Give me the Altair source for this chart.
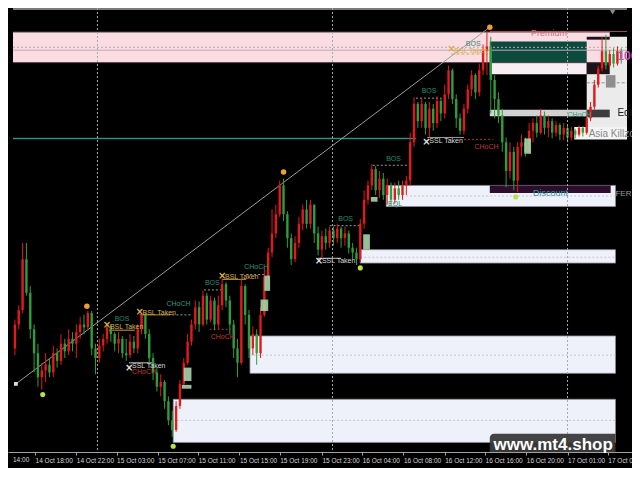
import altair as alt
import pandas as pd

FONT = "Liberation Sans, Arial, sans-serif"
AXIS_FONT = "Liberation Sans, Arial, sans-serif"

# ---------------- price data (M15 bars, price in points) ----------------
first_open = 145
close = [170,185,238,203,165,140,115,122,128,120,
         140,132,150,142,155,150,162,170,167,182,
         145,135,148,155,167,160,150,155,140,138,
         152,145,165,180,160,135,120,105,110,90,
         70,60,85,108,130,152,170,188,170,200,
         175,195,170,190,212,195,170,145,130,210,
         180,145,160,140,180,220,245,265,285,315,
         285,260,238,255,275,290,275,295,265,248,
         262,255,268,260,270,260,265,250,245,238,
         275,300,315,332,310,322,305,315,300,312,
         305,315,320,360,400,382,400,375,395,380,
         403,390,410,435,405,385,372,395,415,430,
         412,435,455,460,425,405,388,360,330,350,
         320,355,360,350,372,380,370,388,375,382,
         370,378,368,375,365,372,368,375,370,385,
         397,420,437,455,440,452,442,455,448]
high = [175,190,255,255,210,170,150,130,140,135,
        148,145,160,155,165,162,170,178,180,184,
        184,150,155,160,170,170,162,162,158,155,
        160,158,170,182,182,165,140,125,118,112,
        95,80,90,112,135,160,175,195,194,205,
        203,200,198,200,218,214,200,175,155,217,
        212,185,168,165,188,230,250,290,295,320,
        322,288,265,262,282,295,300,300,295,272,
        268,270,272,272,275,272,272,268,255,250,
        280,310,320,337,335,330,328,322,318,318,
        320,320,325,370,407,402,406,402,402,400,
        408,405,420,440,437,410,390,400,420,435,
        432,442,462,476,470,430,412,395,365,360,
        355,360,368,365,380,385,388,395,392,388,
        385,382,380,380,378,376,374,378,377,388,
        402,425,440,470,472,456,458,460,458]
low = [138,165,182,200,155,120,105,102,110,115,
       115,125,128,135,138,142,135,155,160,165,
       138,118,130,142,150,152,142,140,135,132,
       135,140,140,160,155,128,112,100,95,82,
       65,53,58,82,105,128,148,165,162,168,
       170,172,164,165,185,188,160,135,115,128,
       170,135,138,128,135,178,215,240,260,282,
       278,250,232,235,250,268,270,270,255,242,
       240,248,250,252,255,250,252,244,238,232,
       235,270,295,310,305,302,300,295,294,296,
       300,300,305,315,355,375,375,368,365,372,
       375,382,385,405,400,375,368,368,390,408,
       405,408,430,430,390,385,380,350,313,322,
       310,308,345,345,348,360,365,368,368,365,
       364,366,362,362,360,362,364,366,366,368,
       382,394,417,434,436,438,438,440,442]

# ---------------- time axis ----------------
tick_bars = [5.25, 16, 26.5, 37.25, 47.75, 58.5, 69, 80, 90.5, 101.25, 112, 122.5, 133.25, 144, 154.5]
tick_labels = ["14 Oct 18:00", "14 Oct 22:00", "15 Oct 03:00", "15 Oct 07:00", "15 Oct 11:00",
               "15 Oct 15:00", "15 Oct 19:00", "15 Oct 23:00", "16 Oct 04:00", "16 Oct 08:00",
               "16 Oct 12:00", "16 Oct 16:00", "16 Oct 20:00", "17 Oct 01:00", "17 Oct 05:00"]
first_tick_bar = -0.5
first_tick_label = "14:00"
separator_bars = [21.5, 82.75, 144]

# ---------------- zones (bar range, price range) ----------------
zone_kind = ["panel", "premium", "ob", "band", "dark", "dark", "midgray", "gray", "darkgray", "asia",
             "demand", "discount", "demand", "demand", "demand"]
zone_x1 = [149, -0.5, 123.75, 123.75, 149, 149, 154, 123.75, 149, 145.75, 96.75, 123.75, 90, 61.25, 41.25]
zone_x2 = [159.5, 155, 149, 149, 155, 155, 156.5, 149, 155, 159.5, 156.5, 155.25, 156.5, 156.5, 156.5]
zone_top = [470, 475, 465, 443, 443, 470, 430, 394, 394, 376, 315, 315, 248, 158, 92]
zone_bottom = [372, 443, 443, 431, 431, 467, 417, 387, 386, 363, 293, 307, 234, 119, 47]

# small imbalance boxes
fvg_x1 = [44, 43.5, 65, 64, 90.75, 92.75, 132.75]
fvg_x2 = [46, 46, 66.5, 66, 92.5, 94.5, 134.5]
fvg_top = [125, 107, 221, 196, 264, 303, 364]
fvg_bottom = [111, 103, 205, 184, 248, 298, 348]

# horizontal level segments
seg_kind = ["border", "premium_edge", "premium_edge", "premium_dot", "premium_mid", "premium_top", "eq",
            "zone_mid", "zone_mid", "zone_mid", "zone_mid",
            "bsl", "bsl", "bsl",
            "swing_dot", "swing_dot", "swing_dot", "swing_dot", "swing_dot", "swing_dot",
            "ssl", "ssl", "ssl", "choch_dn", "choch_dn", "bsl_dash", "panel_dash"]
seg_x1 = [-0.5, -0.5, -0.5, -0.5, -0.5, 123.75, -0.5,
          41.25, 61.25, 90, 96.75,
          24.5, 32.5, 54,
          40, 49.25, 60.25, 82, 93.25, 104.5,
          29.75, 79, 107.5, 50.75, 117, 113.75, 149]
seg_x2 = [159.5, 155, 155, 159.5, 159.5, 159.5, 104.5,
          156.5, 156.5, 156.5, 156.5,
          31.25, 40, 60.25,
          46.25, 54, 65, 90, 103.25, 111.25,
          36.25, 85, 117, 56.25, 124.5, 123.25, 159.5]
seg_p = [499, 475, 443, 459, 456, 475.5, 364,
         70, 138, 240, 304,
         164, 180, 217,
         180, 206, 222, 273, 336, 406,
         130, 239, 365, 165, 363, 452, 422]

# trend line
diag_bar = [0.25, 123.75]
diag_p = [108, 480]

# swing points
dot_kind = ["low", "low", "low", "low", "high", "high", "high"]
dot_bar = [7.25, 41.25, 90, 130.5, 18.75, 70, 123.75]
dot_p = [97, 43, 229, 303, 189, 329, 480]

# liquidity sweep markers
xm_kind = ["bsl", "bsl", "bsl", "bsl", "ssl", "ssl", "ssl"]
xm_bar = [24, 32.5, 54, 113.75, 29.75, 79.25, 107.25]
xm_p = [169, 183, 221, 457, 125, 236, 360]

# structure labels
lab_text = ["BOS", "BSL Taken", "BSL Taken", "CHoCH", "SSL Taken", "CHoCH", "BOS", "BSL Taken", "CHoCH",
            "CHoCH", "BOS", "SSL Taken", "BOS", "EQL", "BOS", "SSL Taken", "CHoCH", "BSL Taken", "BOS", "CHoCH"]
lab_kind = ["bos", "bsl", "bsl", "choch_up", "ssl", "choch_dn", "bos", "bsl", "choch_up",
            "choch_dn", "bos", "ssl", "bos", "bos", "bos", "ssl", "choch_dn", "bsl", "bos", "choch_up"]
lab_bar = [26, 24.75, 33.25, 39.5, 30.5, 30.5, 49.5, 54.75, 59.75,
           51, 84.25, 80, 96.75, 97.25, 106, 108, 119.75, 114.5, 117.5, 144]
lab_p = [176, 167, 182, 191, 127, 120, 213, 220, 230,
         157, 280, 236, 343, 296, 413, 361, 355, 455, 462, 388]

note_text = ["Premium", "Discount", "Asia Killzone", "Equ", "100", "FER"]
note_bar = [134.5, 135, 149.5, 157, 157, 156.5]
note_p = [474, 307, 369, 390, 450, 306]

wm_x1, wm_x2, wm_top, wm_bottom = [123.75], [156.5], [56], [37]
wm_text = ["www.mt4.shop"]
wm_bar = [140.25]
wm_p = [39]

# ---------------- frames ----------------
opens = [first_open] + close[:-1]
candles = pd.DataFrame({"bar": list(range(len(close))), "open": opens, "close": close,
                        "high": high, "low": low})
candles["dir"] = ["up" if c >= o else "down" for o, c in zip(opens, close)]

zones = pd.DataFrame({"kind": zone_kind, "x1": zone_x1, "x2": zone_x2, "top": zone_top, "bottom": zone_bottom})
fvg = pd.DataFrame({"x1": fvg_x1, "x2": fvg_x2, "top": fvg_top, "bottom": fvg_bottom})
segs = pd.DataFrame({"kind": seg_kind, "x1": seg_x1, "x2": seg_x2, "p": seg_p})
diag = pd.DataFrame({"bar": diag_bar, "p": diag_p})
dots = pd.DataFrame({"kind": dot_kind, "bar": dot_bar, "p": dot_p})
xms = pd.DataFrame({"kind": xm_kind, "bar": xm_bar, "p": xm_p})
labs = pd.DataFrame({"text": lab_text, "kind": lab_kind, "bar": lab_bar, "p": lab_p})
notes = pd.DataFrame({"text": note_text, "bar": note_bar, "p": note_p})
seps = pd.DataFrame({"bar": separator_bars})
wm_box = pd.DataFrame({"x1": wm_x1, "x2": wm_x2, "top": wm_top, "bottom": wm_bottom})
wm = pd.DataFrame({"text": wm_text, "bar": wm_bar, "p": wm_p})
first_tick = pd.DataFrame({"bar": [first_tick_bar], "text": [first_tick_label]})

W, H = 624, 444
xscale = alt.Scale(domain=[-0.5, 159.5], nice=False, zero=False)
yscale = alt.Scale(domain=[37, 500], nice=False, zero=False)
label_expr = "[" + ",".join("'%s'" % t for t in tick_labels) + "][indexof([" + \
             ",".join(str(v) for v in tick_bars) + "], datum.value)]"
xaxis = alt.Axis(values=tick_bars, labelExpr=label_expr, orient="bottom", title=None, grid=False,
                 domainColor="#a0a0a0", domainWidth=1, tickColor="#a0a0a0", tickSize=3, tickWidth=1,
                 labelColor="#d6d6d6", labelFont=AXIS_FONT, labelFontSize=6.5, labelAlign="left",
                 labelBaseline="top", labelPadding=2, labelOverlap=False, labelBound=False,
                 labelFlush=False)


def X(f):
    return alt.X(f, type="quantitative", scale=xscale, axis=xaxis)


def Y(f):
    return alt.Y(f, type="quantitative", scale=yscale, axis=None)


def rects(df, **mark):
    return alt.Chart(df).mark_rect(**mark).encode(x=X("x1"), x2="x2", y=Y("top"), y2="bottom")


zone_style = {"panel": "#ebebeb", "premium": "#f9dde3", "ob": "#0c4a3d", "band": "#f6eef2",
              "dark": "#1c1219", "midgray": "#8e8e8e", "gray": "#d2d2d2", "darkgray": "#3c3c3c",
              "asia": "#f4f4f4"}
zone_layers = []
for k, col in zone_style.items():
    zone_layers.append(rects(zones[zones.kind == k], color=col))
demand_layer = rects(zones[zones.kind == "demand"], color="#eef0fa", stroke="#8c8c98", strokeWidth=0.8)
discount_layer = rects(zones[zones.kind == "discount"], color="#2c0e2c")

seg_style = {
    "border": ("#7a7a7a", 2, [1, 0]),
    "premium_edge": ("#4a3a40", 1, [1, 0]),
    "premium_dot": ("#c4a4ae", 1, [2, 2]),
    "premium_mid": ("#bcaab8", 1, [1, 0]),
    "premium_top": ("#c05868", 1, [1, 0]),
    "eq": ("#2f8f80", 1.5, [1, 0]),
    "zone_mid": ("#c4c6d4", 1, [2, 2]),
    "bsl": ("#c8a850", 1, [1, 0]),
    "bsl_dash": ("#c8a850", 1, [3, 2]),
    "swing_dot": ("#9a9a9a", 1, [2, 2]),
    "ssl": ("#d0d0d0", 1, [1, 0]),
    "choch_dn": ("#b03838", 1, [2, 2]),
    "panel_dash": ("#909090", 1, [3, 2]),
}
seg_layers = []
for k, (col, w, dash) in seg_style.items():
    seg_layers.append(alt.Chart(segs[segs.kind == k]).mark_rule(color=col, strokeWidth=w, strokeDash=dash)
                      .encode(x=X("x1"), x2="x2", y=Y("p")))

diag_layer = alt.Chart(diag).mark_line(color="#9c9c9c", strokeWidth=1).encode(x=X("bar"), y=Y("p"))

up = candles[candles.dir == "up"]
down = candles[candles.dir == "down"]
candle_layers = []
for df, col in [(up, "#e3191b"), (down, "#2f9e3a")]:
    candle_layers.append(alt.Chart(df).mark_rule(strokeWidth=1, color=col)
                         .encode(x=X("bar"), y=Y("low"), y2="high"))
    candle_layers.append(alt.Chart(df).mark_bar(size=2.4, color=col)
                         .encode(x=X("bar"), y=Y("open"), y2="close"))

fvg_layer = rects(fvg, color="#a9d3a9", opacity=0.9)

dot_layers = [
    alt.Chart(dots[dots.kind == "low"]).mark_circle(size=26, opacity=1, color="#b8e04a").encode(x=X("bar"), y=Y("p")),
    alt.Chart(dots[dots.kind == "high"]).mark_circle(size=30, opacity=1, color="#f0a030").encode(x=X("bar"), y=Y("p")),
    alt.Chart(diag.head(1)).mark_square(size=14, color="#e0e0e0", opacity=1).encode(x=X("bar"), y=Y("p")),
]

xm_layers = []
for k, col in [("bsl", "#d8b048"), ("ssl", "#e6e6e6")]:
    xm_layers.append(alt.Chart(xms[xms.kind == k]).mark_text(
        text="×", fontSize=10, fontWeight="bold", font="DejaVu Sans", color=col).encode(x=X("bar"), y=Y("p")))

lab_style = {"bos": "#2e8a72", "bsl": "#d8b048", "ssl": "#d8d8d8", "choch_up": "#2e9a80", "choch_dn": "#c03838"}
lab_layers = []
for k, col in lab_style.items():
    lab_layers.append(alt.Chart(labs[labs.kind == k]).mark_text(
        align="left", baseline="middle", fontSize=7, font=FONT, color=col)
        .encode(x=X("bar"), y=Y("p"), text="text:N"))

note_style = {"Premium": ("#d06a78", 9, "normal"), "Discount": ("#3a9a9a", 9, "normal"),
              "Asia Killzone": ("#8a8a8a", 10, "normal"), "Equ": ("#202020", 10, "normal"),
              "100": ("#d050b0", 12, "bold"), "FER": ("#9a9a9a", 8, "normal")}
note_layers = []
for t, (col, fs, fw) in note_style.items():
    note_layers.append(alt.Chart(notes[notes.text == t]).mark_text(
        align="left", baseline="middle", color=col, fontSize=fs, fontWeight=fw, font=FONT)
        .encode(x=X("bar"), y=Y("p"), text="text:N"))

sep_layer = alt.Chart(seps).mark_rule(color="#a8a8a8", strokeWidth=1, strokeDash=[2, 2]).encode(x=X("bar"))

tri_layer = alt.Chart(pd.DataFrame({"bar": [155.75], "p": [495.5]})).mark_point(
    shape="triangle-down", filled=True, size=28, color="#8a8a8a", opacity=1).encode(x=X("bar"), y=Y("p"))

wm_box_layer = rects(wm_box, color="#3a3a3a", opacity=0.95, cornerRadiusTopLeft=4)
wm_layer = alt.Chart(wm).mark_text(align="center", baseline="alphabetic", fontSize=17, fontWeight="bold",
                                   color="#ffffff", font=FONT).encode(x=X("bar"), y=Y("p"), text="text:N")

first_tick_layer = alt.Chart(first_tick).mark_text(
    align="left", baseline="top", fontSize=6.5, font=AXIS_FONT, color="#d6d6d6").encode(
    x=X("bar"), y=alt.value(H + 5), text="text:N")

chart = alt.layer(
    *zone_layers, demand_layer, discount_layer, *seg_layers, diag_layer,
    *candle_layers, fvg_layer, *dot_layers, *xm_layers, *lab_layers, *note_layers,
    sep_layer, tri_layer, wm_box_layer, wm_layer, first_tick_layer
).properties(
    width=W, height=H,
    autosize=alt.AutoSizeParams(type="none"),
    padding={"left": 0, "top": 0, "right": 0, "bottom": 16},
    background="#000000",
).configure_view(stroke=None)

chart.save("out.html", embed_options={"renderer": "svg", "actions": False})
